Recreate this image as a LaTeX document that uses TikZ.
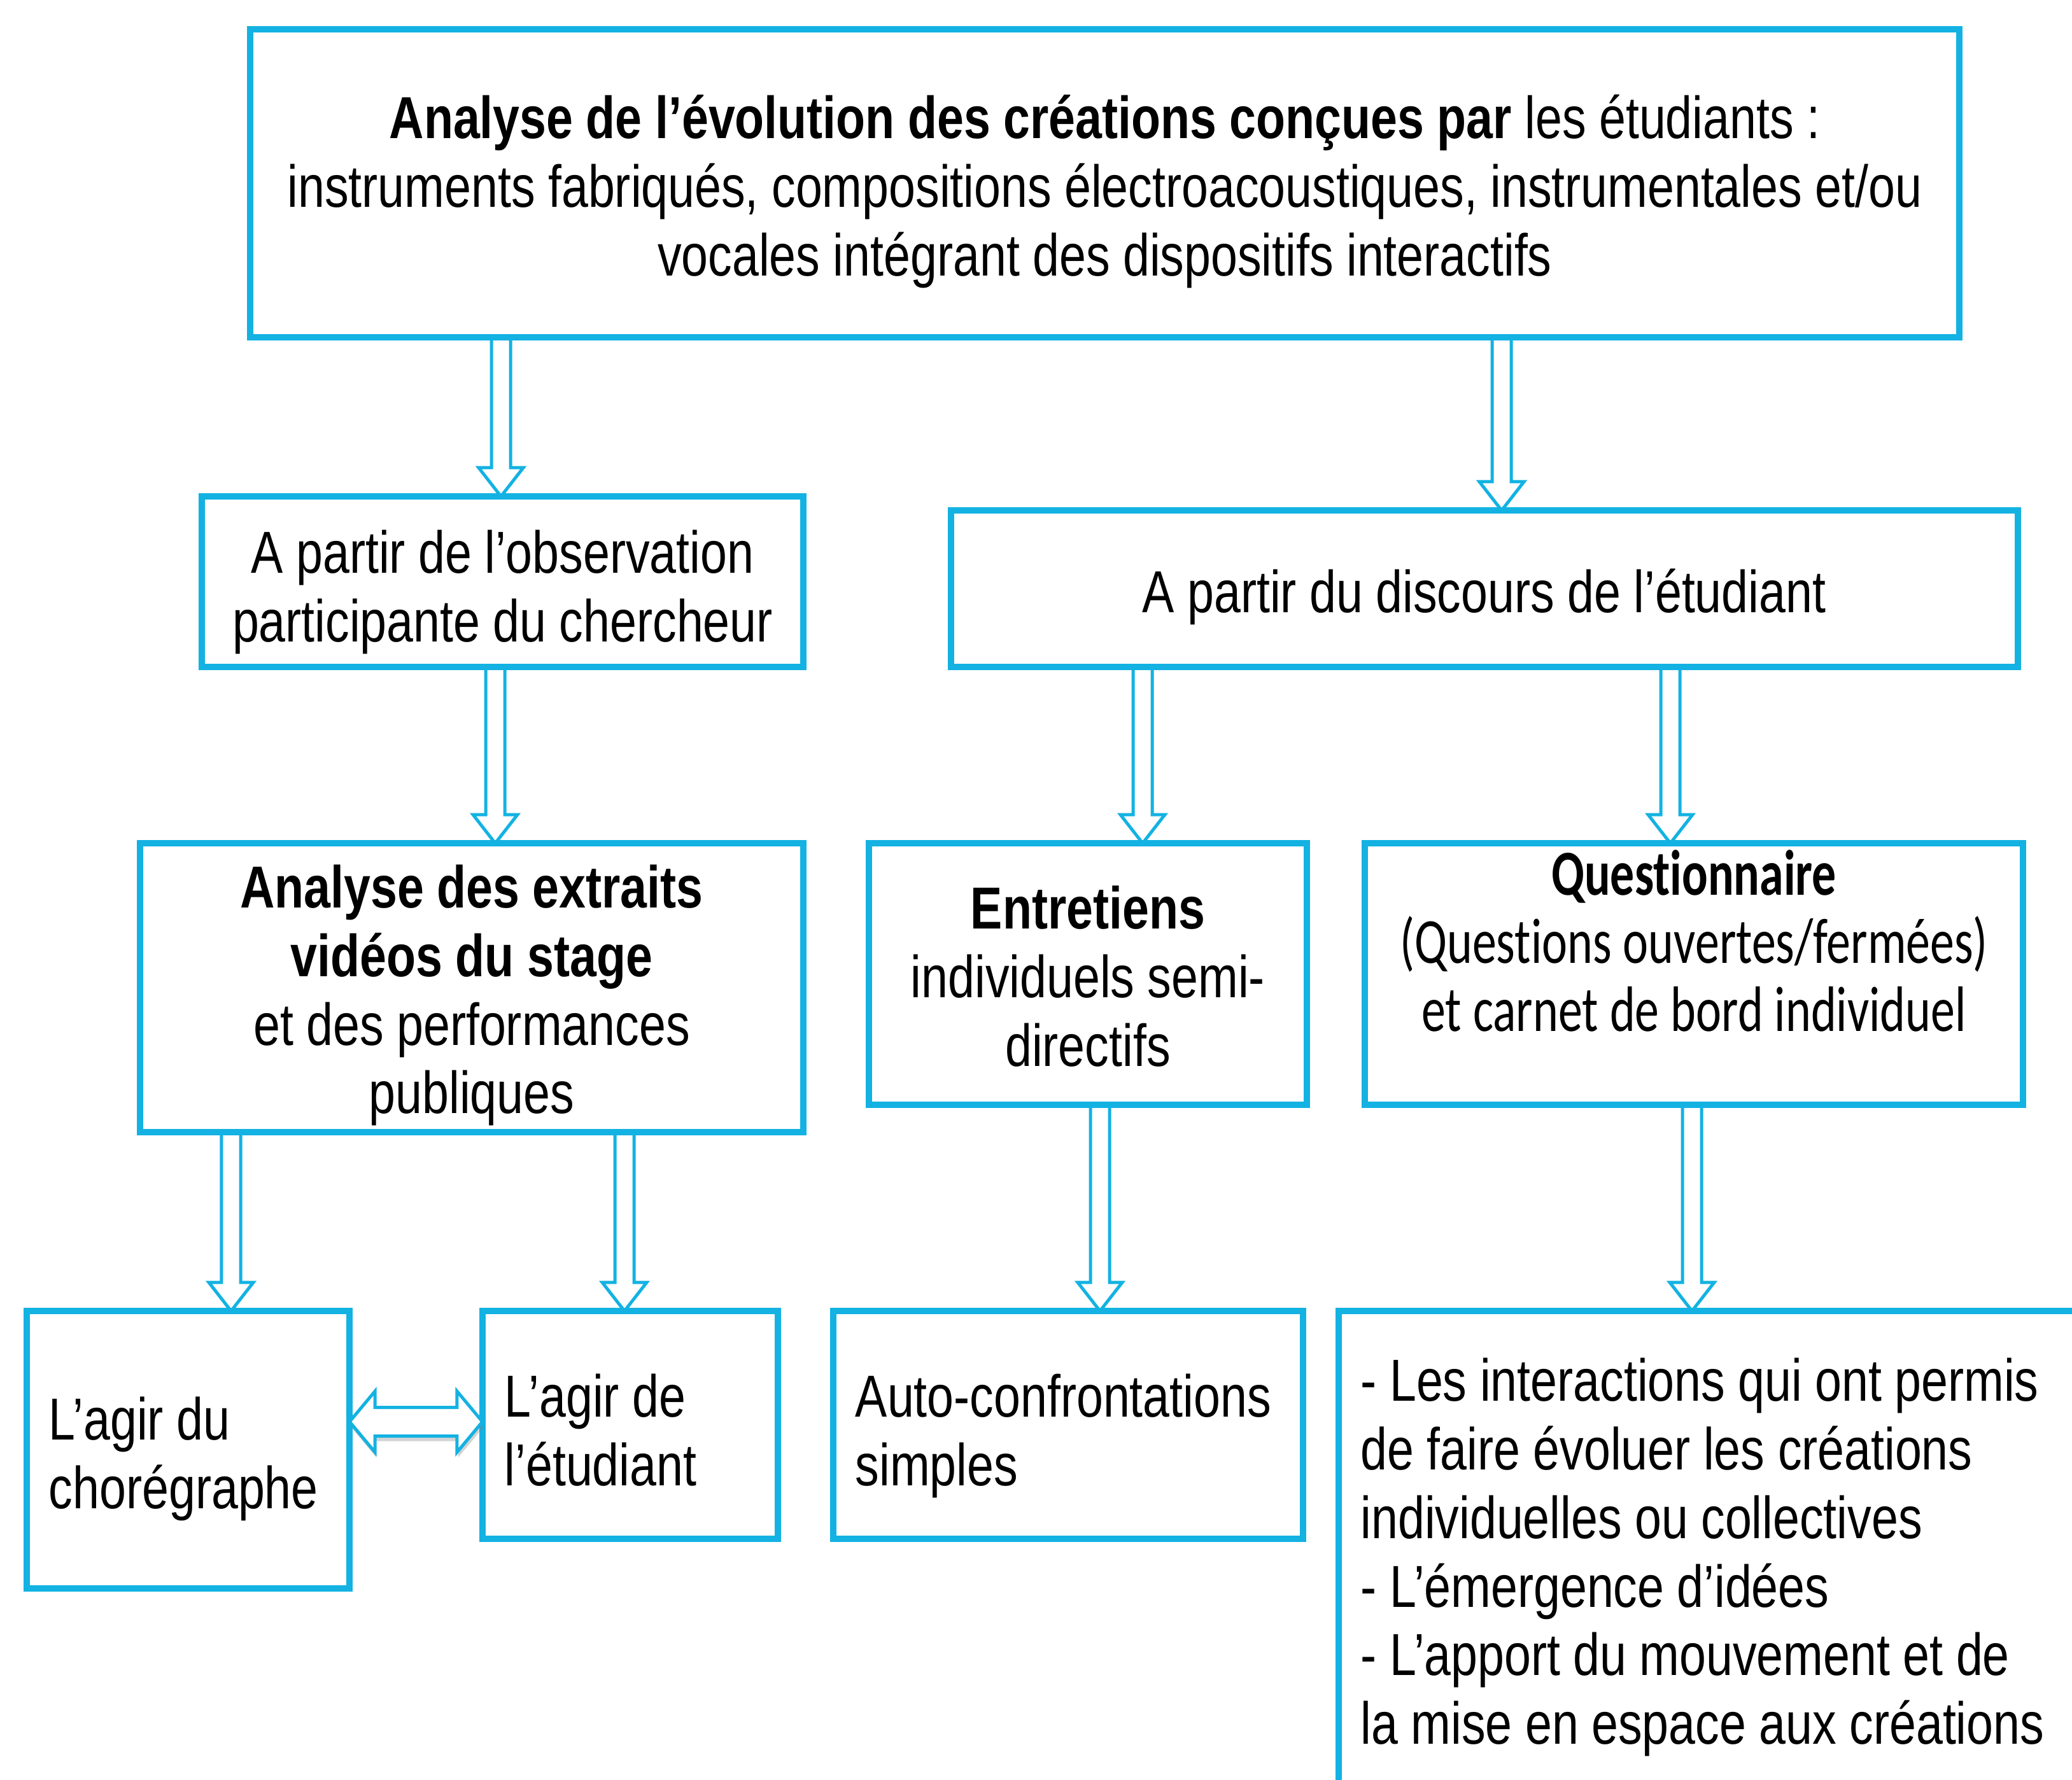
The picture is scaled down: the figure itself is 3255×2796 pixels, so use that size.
\documentclass[tikz,border=0pt]{standalone}
\usepackage{fontspec}
\setmainfont{Liberation Sans}[FakeStretch=0.808]
\newfontfamily\carlitofont{Carlito}[FakeStretch=0.751]
\usepackage{xcolor}
\usepackage{tikz}
\usetikzlibrary{positioning, calc, shadows}
\definecolor{boxblue}{RGB}{19,178,226}
\newcommand{\boxsize}{\fontsize{26.5pt}{30.7pt}\selectfont}
\newcommand{\carlitosize}{\carlitofont\fontsize{28.7pt}{30.5pt}\selectfont}
\newcommand{\ti}{t\kern0pt i}
\tikzstyle{box} = [rectangle, draw=boxblue, line width=0.1cm, fill=white, outer sep=0pt, inner ysep=0pt, inner xsep=0.2cm, align=flush center, font=\boxsize,
  execute at begin node={\spaceskip=0.22em plus 0.05em minus 0.03em\relax}]
\tikzstyle{lbox} = [box, inner xsep=0.35cm, align=flush left]
\tikzstyle{qbox} = [box, font=\carlitosize, execute at begin node={\spaceskip=0.18em plus 0.05em minus 0.03em\relax}]
\tikzstyle{hollow} = [draw=boxblue, line width=0.05cm, line join=miter,
  to path={let \p1=(\tikztostart), \p2=(\tikztotarget) in
    (\x1-0.15cm,\y1) -- (\x1-0.15cm,\y2+0.45cm) -- (\x1-0.35cm,\y2+0.45cm) -- (\x1,\y2)
    -- (\x1+0.35cm,\y2+0.45cm) -- (\x1+0.15cm,\y2+0.45cm) -- (\x1+0.15cm,\y1)}]
\tikzstyle{hollowlr} = [draw=boxblue, line width=0.05cm, line join=miter, fill=white,
  drop shadow={opacity=0.35, shadow xshift=0.02cm, shadow yshift=-0.08cm},
  to path={let \p1=(\tikztostart), \p2=(\tikztotarget) in
    (\x1,\y1) -- (\x1+0.4cm,\y1+0.48cm) -- (\x1+0.4cm,\y1+0.225cm) -- (\x2-0.4cm,\y1+0.225cm)
    -- (\x2-0.4cm,\y1+0.48cm) -- (\x2,\y1) -- (\x2-0.4cm,\y1-0.48cm) -- (\x2-0.4cm,\y1-0.225cm)
    -- (\x1+0.4cm,\y1-0.225cm) -- (\x1+0.4cm,\y1-0.48cm) -- cycle}]

\begin{document}
\begin{tikzpicture}[x=0.01cm, y=-0.01cm]
        \useasboundingbox (0,0) rectangle (3255,2796);
        % Nodes
        \node (top) [box, anchor=north, text width=26.43cm, text height=1.71cm, text depth=3.13cm] at (1735.5,46)
            {\textbf{Analyse de l’évolution des créations conçues par} les étudiants :\\
             instruments fabriqués, compositions électroacoustiques, instrumentales et/ou\\
             vocales intégrant des dispositifs interactifs};
        \node (obs) [box, anchor=north, text width=9.05cm, text height=1.20cm, text depth=1.48cm] at (789.5,780)
            {A partir de l’observation\\ participante du chercheur};
        \node (disc) [box, anchor=north, text width=16.35cm, text height=1.60cm, text depth=0.86cm] at (2331.5,802)
            {A partir du discours de l’étudiant};
        \node (extraits) [box, anchor=north, text width=10.02cm, text height=1.01cm, text depth=3.53cm] at (741,1325)
            {\textbf{Analyse des extraits}\\ \textbf{vidéos du stage}\\ et des performances\\ publiques};
        \node (entretiens) [box, anchor=north, text width=6.48cm, text height=1.34cm, text depth=2.77cm] at (1709,1325)
            {\textbf{Entretiens}\\ individuels semi-\\ directifs};
        \node (quest) [qbox, anchor=north, text width=9.94cm, text height=0.81cm, text depth=3.30cm] at (2661,1325)
            {\textbf{Ques\ti onnaire}\\ (Ques\ti ons ouvertes/fermées)\\ et carnet de bord individuel};
        \node (choreo) [lbox, anchor=north, text width=4.37cm, text height=2.02cm, text depth=2.34cm] at (295.5,2060)
            {L’agir du\\ chorégraphe};
        \node (agir) [lbox, anchor=north, text width=3.94cm, text height=1.66cm, text depth=1.92cm] at (990,2060)
            {L’agir de\\ l’étudiant};
        \node (autoconf) [lbox, anchor=north, text width=6.68cm, text height=1.66cm, text depth=1.92cm] at (1678,2060)
            {\mbox{Auto-confrontations}\\ simples};
        \node (apports) [lbox, anchor=north, text width=11.77cm, text height=1.41cm, text depth=6.99cm] at (2726.5,2060)
            {- Les interactions qui ont permis\\ de faire évoluer les créations\\ individuelles ou collectives\\
             - L’émergence d’idées\\ - L’apport du mouvement et de\\ la mise en espace aux créations};
        % Edges
        \draw[hollow] (787,0 |- top.south) to (obs.north);
        \draw[hollow] (2359,0 |- top.south) to (disc.north);
        \draw[hollow] (778,0 |- obs.south) to (extraits.north);
        \draw[hollow] (1795,0 |- disc.south) to (entretiens.north);
        \draw[hollow] (2624,0 |- disc.south) to (quest.north);
        \draw[hollow] (363,0 |- extraits.south) to (choreo.north);
        \draw[hollow] (981,0 |- extraits.south) to (agir.north);
        \draw[hollow] (1728,0 |- entretiens.south) to (autoconf.north);
        \draw[hollow] (2658,0 |- quest.south) to (apports.north);
        \draw[hollowlr] (choreo.east |- 0,2234) to (agir.west);
    \end{tikzpicture}
\end{document}
